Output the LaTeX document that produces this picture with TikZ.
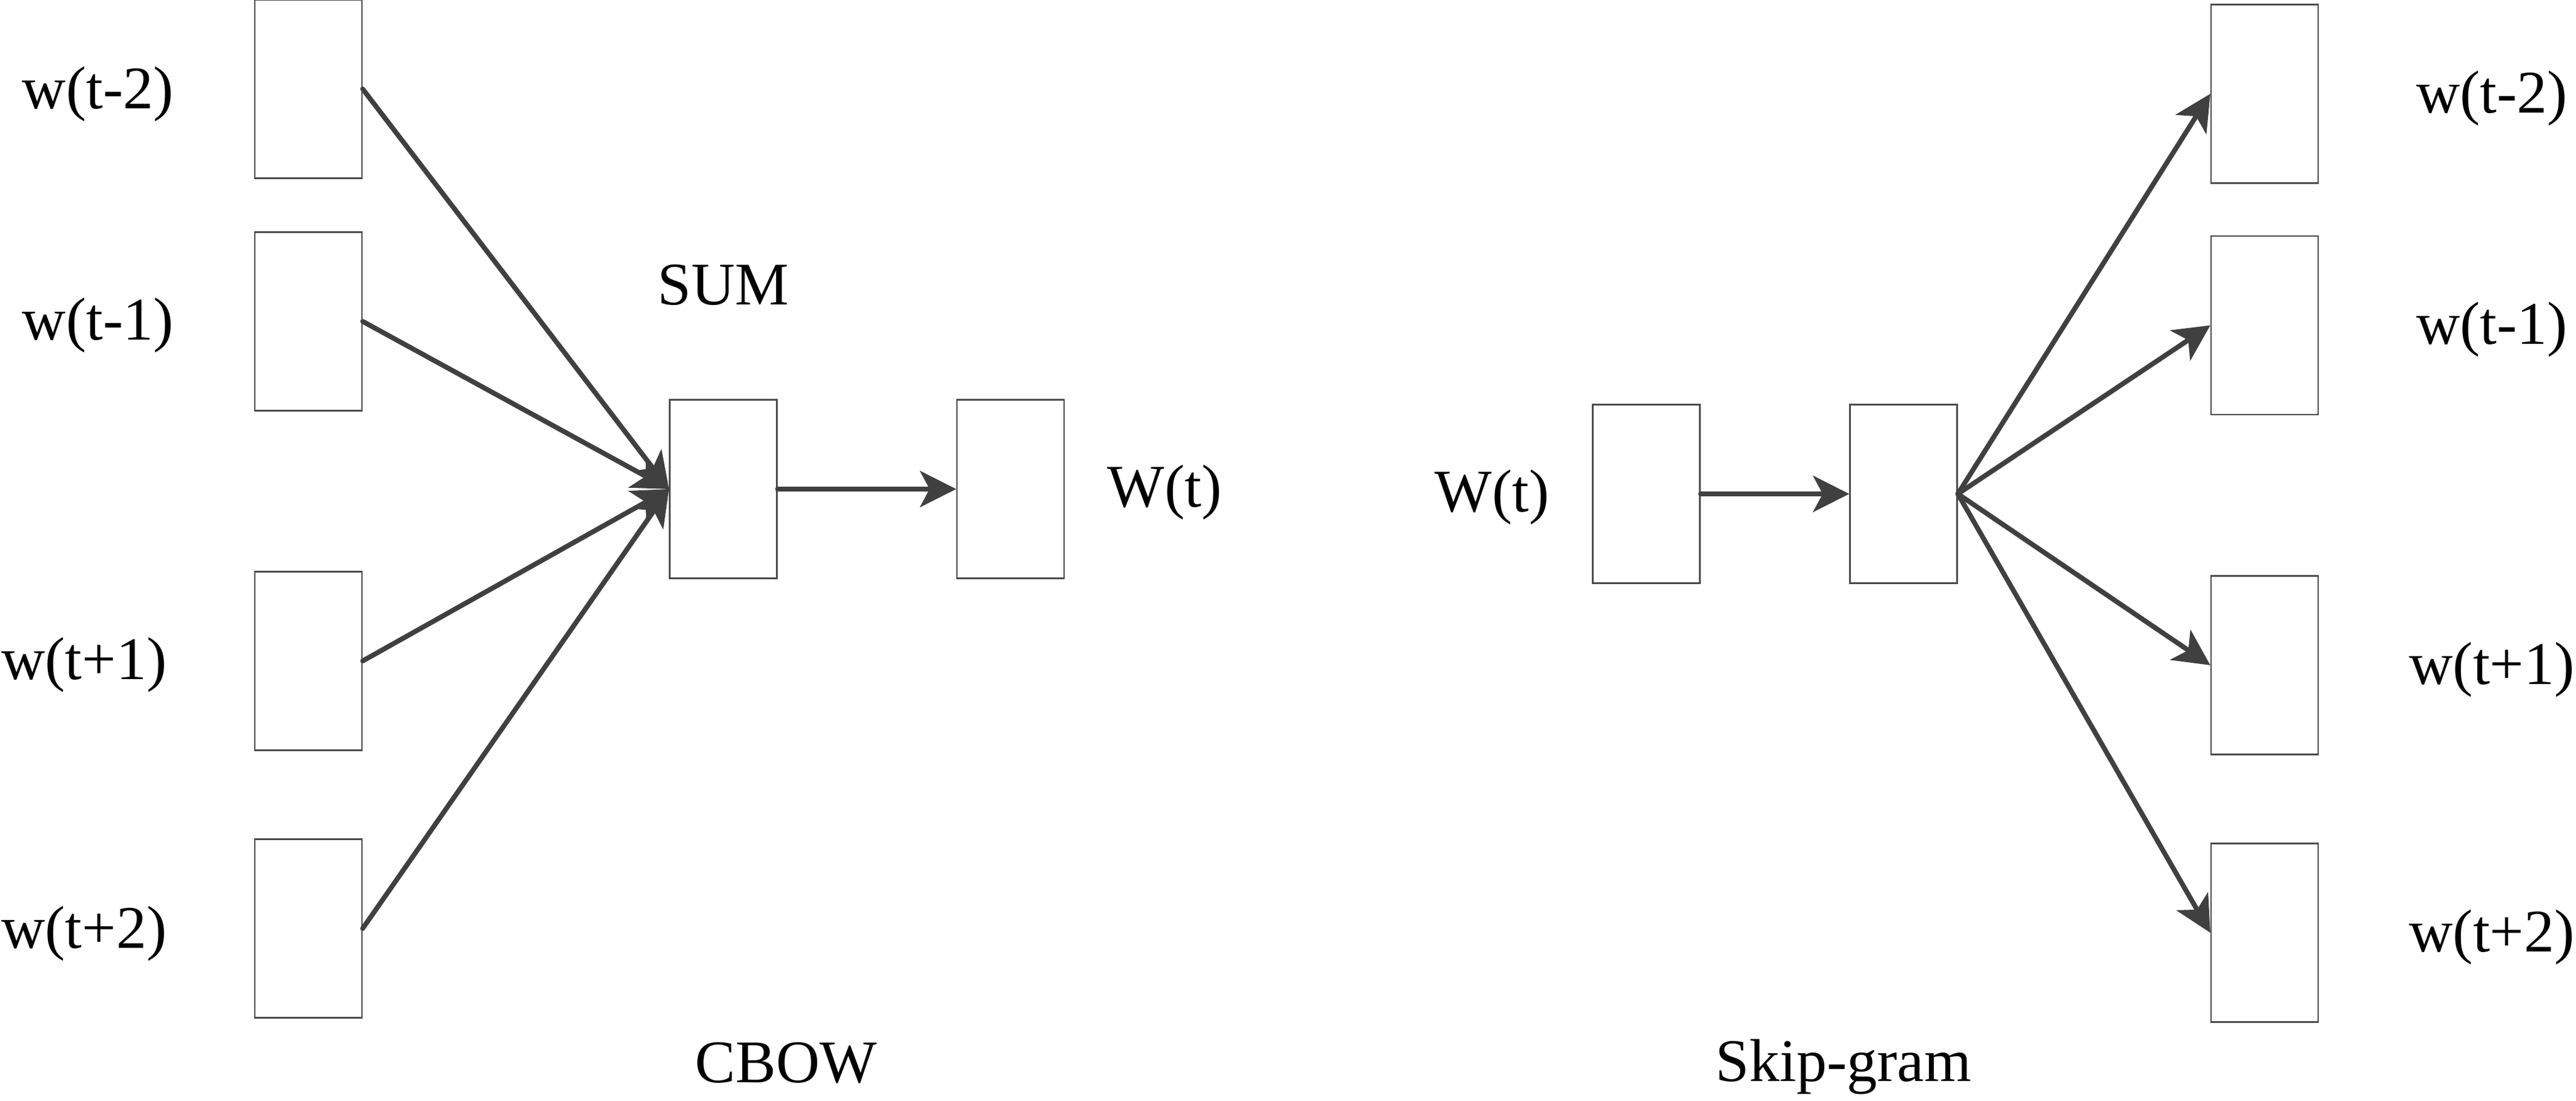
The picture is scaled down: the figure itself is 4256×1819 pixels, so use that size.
\documentclass[tikz,border=0pt]{standalone}
\usepackage{fontspec}
\setmainfont{Liberation Serif}
\usetikzlibrary{arrows.meta}
\definecolor{linegray}{HTML}{404040}
\definecolor{boxgray}{HTML}{4A4A4A}
\tikzset{
  vec/.style={draw=boxgray, line width=0.65pt, fill=white, minimum width=1.77cm, minimum height=2.95cm, inner sep=0pt},
  lbl/.style={anchor=base, inner sep=0pt, font=\fontsize{28.45pt}{34pt}\selectfont},
  conn/.style={draw=linegray, line width=2.3pt, -{Stealth[length=17pt, width=17pt, inset=4.5pt]}, line cap=round}
}
\begin{document}
\begin{tikzpicture}[x=0.01cm, y=-0.01cm]
\useasboundingbox (0,0) rectangle (4256,1819);
% CBOW
\node[vec] (L1) at (509.5,147) {};
\node[vec] (L2) at (509.5,531) {};
\node[vec] (L3) at (509.5,1092) {};
\node[vec] (L4) at (509.5,1534) {};
\node[vec] (sum) at (1195,808) {};
\node[vec] (out) at (1669.5,808) {};
\node[lbl] (tL1) at (162,180) {w(t-2)};
\node[lbl] (tL2) at (162,562) {w(t-1)};
\node[lbl] (tL3) at (139,1123) {w(t+1)};
\node[lbl] (tL4) at (139,1566) {w(t+2)};
\node[lbl] (tsum) at (1195,504) {SUM};
\node[lbl] (tout) at (1924,838) {W(t)};
\node[lbl] (tcbow) at (1299,1788) {CBOW};
\draw[conn] (L1.east) -- (sum.west);
\draw[conn] (L2.east) -- (sum.west);
\draw[conn] (L3.east) -- (sum.west);
\draw[conn] (L4.east) -- (sum.west);
\draw[conn] (sum.east) -- (out.west);
% Skip-gram
\node[vec] (win) at (2720,816) {};
\node[vec] (hid) at (3145,816) {};
\node[vec] (R1) at (3741.5,155) {};
\node[vec] (R2) at (3741.5,537.5) {};
\node[vec] (R3) at (3741.5,1099) {};
\node[vec] (R4) at (3741.5,1541) {};
\node[lbl] (twin) at (2465,846) {W(t)};
\node[lbl] (tR1) at (4117,187) {w(t-2)};
\node[lbl] (tR2) at (4117,569) {w(t-1)};
\node[lbl] (tR3) at (4117,1130) {w(t+1)};
\node[lbl] (tR4) at (4117,1572) {w(t+2)};
\node[lbl] (tskip) at (3046,1786) {Skip-gram};
\draw[conn] (win.east) -- (hid.west);
\draw[conn] (hid.east) -- (R1.west);
\draw[conn] (hid.east) -- (R2.west);
\draw[conn] (hid.east) -- (R3.west);
\draw[conn] (hid.east) -- (R4.west);
\end{tikzpicture}
\end{document}
